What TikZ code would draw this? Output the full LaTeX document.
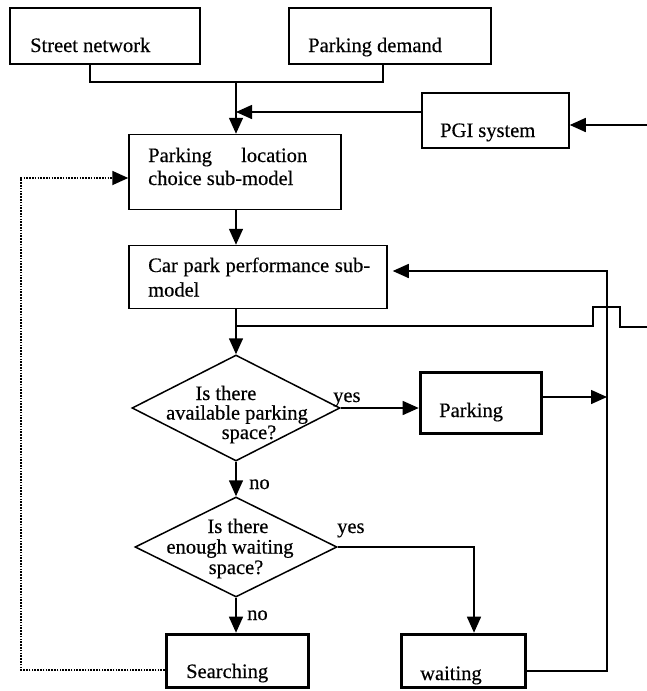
\documentclass[tikz,border=0pt]{standalone}
\usepackage{fontspec}
\setmainfont[FakeBold=0.4]{Liberation Serif}
\usetikzlibrary{arrows.meta,shapes.geometric}
\tikzset{
  box/.style={draw, rectangle, line width=1.5pt, inner sep=0pt},
  thickbox/.style={draw, rectangle, line width=3.6pt, inner sep=0pt},
  dia/.style={draw, diamond, line width=1.5pt, inner sep=0pt},
  txt/.style={inner sep=0pt, font=\fontsize{20.5}{23}\selectfont},
  conn/.style={line width=1.5pt},
  arr/.style={conn, -{Triangle[length=16pt,width=14pt]}},
  dotarr/.style={line width=1.8pt, dash pattern=on 1.6pt off 1.2pt, -{Triangle[length=16pt,width=14pt]}},
}
\begin{document}
\begin{tikzpicture}[x=1pt,y=-1pt]
\useasboundingbox[fill=white] (0,0) rectangle (647,691);
% boxes
\node[box, minimum width=190pt, minimum height=56pt] (street) at (105,36) {};
\node[box, minimum width=202pt, minimum height=56pt] (demand) at (390,36) {};
\node[box, minimum width=147pt, minimum height=55pt] (pgi) at (495.5,120.5) {};
\node[box, minimum width=212pt, minimum height=75pt] (loc) at (235,172) {};
\node[box, minimum width=258pt, minimum height=63pt] (car) at (258,277) {};
\node[dia, minimum width=208pt, minimum height=106pt] (d1) at (236,408) {};
\node[thickbox, minimum width=121pt, minimum height=61pt] (park) at (481,403) {};
\node[dia, minimum width=202pt, minimum height=100pt] (d2) at (236,547) {};
\node[thickbox, minimum width=142pt, minimum height=53pt] (search) at (237.5,661) {};
\node[thickbox, minimum width=124pt, minimum height=53pt] (wait) at (463.5,661) {};
% texts
\node[txt, anchor=base west] (streetT) at (30,52) {Street network};
\node[txt, anchor=base west] (demandT) at (308,52) {Parking demand};
\node[txt, anchor=base west] (pgiT) at (440,137) {PGI system};
\node[txt, anchor=base west] (locT) at (148,162) {\parbox[t]{159pt}{Parking\hfill location\\choice sub-model}};
\node[txt, anchor=base west, font=\fontsize{20.5}{24.5}\selectfont] (carT) at (148,272) {\parbox[t]{240pt}{\makebox[222pt][s]{Car park performance sub-}\\model}};
\node[txt, anchor=base, font=\fontsize{20.5}{19.5}\selectfont] (d1T) at (237,400) {\parbox[t]{170pt}{\centering\hspace*{-22pt}Is there\\available parking\\\hspace*{24pt}space?}};
\node[txt, anchor=base west] (yes1) at (333,402) {yes};
\node[txt, anchor=base west] (parkT) at (439,417) {Parking};
\node[txt, anchor=base west] (no1) at (249,489) {no};
\node[txt, anchor=base, font=\fontsize{20.5}{20.5}\selectfont] (d2T) at (232,533) {\parbox[t]{170pt}{\centering\hspace*{12pt}Is there\\\hspace*{-4pt}enough waiting\\\hspace*{8pt}space?}};
\node[txt, anchor=base west] (yes2) at (337,533) {yes};
\node[txt, anchor=base west] (no2) at (247,620) {no};
\node[txt, anchor=base west] (searchT) at (186,678) {Searching};
\node[txt, anchor=base west] (waitT) at (420,680) {waiting};
% connectors
\coordinate (jn) at (236,82);
\draw[conn] ([xshift=-15pt]street.south) |- (jn) -| ([xshift=-7pt]demand.south);
\draw[arr] (jn) -- (jn |- loc.north);
\coordinate (pgiin) at ([yshift=8.5pt]pgi.west);
\draw[arr] (pgiin) -- (jn |- pgiin);
\coordinate (rin) at (647,125);
\draw[arr] (rin) -- (rin -| pgi.east);
\draw[arr] (jn |- loc.south) -- (jn |- car.north);
\draw[arr] (jn |- car.south) -- (d1.north);
\coordinate (hs) at (236,326);
\coordinate (hopend) at (647,327);
\draw[conn] (hs) -- ++(357,0) -- ++(0,-19) -- ++(27,0) -- ++(0,20) -- (hopend);
\draw[arr] (d1.east) -- (d1.east -| park.west);
\coordinate (rc) at (607,271);
\coordinate (pout) at ([yshift=6pt]park.east);
\draw[arr] (pout) -- (pout -| rc);
\coordinate (wout) at ([yshift=-10pt]wait.east);
\draw[arr, shorten >=5pt] (wout) -| (rc) -- (rc -| car.east);
\draw[arr] (d1.south) -- (d2.north);
\draw[arr] (d2.east) -| ([xshift=10.5pt]wait.north);
\draw[arr] (d2.south) -- (d2.south |- search.north);
\coordinate (sout) at ([yshift=-9pt]search.west);
\coordinate (dl) at (21,178);
\draw[dotarr] (sout) -| (dl) -- (dl -| loc.west);
\end{tikzpicture}
\end{document}
